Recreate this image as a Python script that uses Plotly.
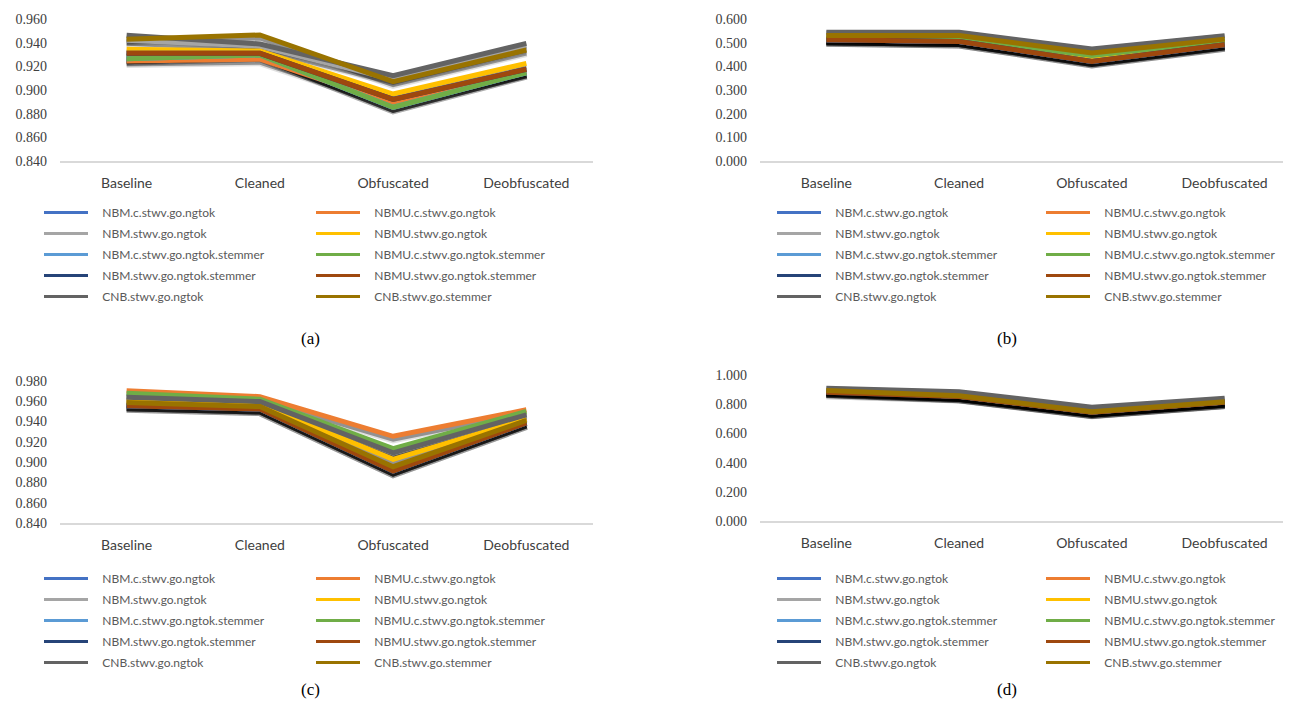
import plotly.graph_objects as go

# The page body has an 8px margin, so the figure is drawn 8px smaller and all
# pixel positions below are given in window coordinates, shifted by OFF.
OFF = 8
W, H = 1291 - OFF, 704 - OFF

categories = ["Baseline", "Cleaned", "Obfuscated", "Deobfuscated"]

series_names = [
    "NBM.c.stwv.go.ngtok", "NBMU.c.stwv.go.ngtok",
    "NBM.stwv.go.ngtok", "NBMU.stwv.go.ngtok",
    "NBM.c.stwv.go.ngtok.stemmer", "NBMU.c.stwv.go.ngtok.stemmer",
    "NBM.stwv.go.ngtok.stemmer", "NBMU.stwv.go.ngtok.stemmer",
    "CNB.stwv.go.ngtok", "CNB.stwv.go.stemmer",
]
series_colors = ["#4472C4", "#ED7D31", "#A5A5A5", "#FFC000", "#5B9BD5",
                 "#70AD47", "#264478", "#9E480E", "#636363", "#997300"]

# panel (a)
values_a = [
    [0.9265, 0.9296, 0.8854, 0.9146],
    [0.9245, 0.9260, 0.8887, 0.9150],
    [0.9420, 0.9370, 0.9090, 0.9365],
    [0.9344, 0.9330, 0.8966, 0.9225],
    [0.9265, 0.9296, 0.8854, 0.9146],
    [0.9265, 0.9296, 0.8854, 0.9146],
    [0.9310, 0.9310, 0.8921, 0.9175],
    [0.9310, 0.9310, 0.8921, 0.9175],
    [0.9462, 0.9389, 0.9120, 0.9394],
    [0.9428, 0.9465, 0.9070, 0.9338],
]
# panel (b)
values_b = [
    [0.512, 0.505, 0.421, 0.491],
    [0.512, 0.505, 0.424, 0.493],
    [0.540, 0.541, 0.470, 0.527],
    [0.517, 0.512, 0.435, 0.503],
    [0.512, 0.505, 0.421, 0.491],
    [0.519, 0.516, 0.446, 0.508],
    [0.512, 0.505, 0.421, 0.491],
    [0.512, 0.505, 0.421, 0.491],
    [0.544, 0.544, 0.473, 0.529],
    [0.530, 0.530, 0.456, 0.515],
]
# panel (c)
values_c = [
    [0.9555, 0.9523, 0.8912, 0.9386],
    [0.9705, 0.9646, 0.9255, 0.9516],
    [0.9635, 0.9595, 0.9090, 0.9465],
    [0.9600, 0.9570, 0.9027, 0.9425],
    [0.9555, 0.9523, 0.8912, 0.9386],
    [0.9680, 0.9620, 0.9134, 0.9500],
    [0.9555, 0.9523, 0.8912, 0.9386],
    [0.9555, 0.9523, 0.8912, 0.9386],
    [0.9640, 0.9597, 0.9092, 0.9467],
    [0.9588, 0.9548, 0.8955, 0.9411],
]
# panel (d)
values_d = [
    [0.890, 0.855, 0.747, 0.815],
    [0.890, 0.855, 0.747, 0.815],
    [0.905, 0.880, 0.772, 0.835],
    [0.890, 0.855, 0.747, 0.815],
    [0.890, 0.855, 0.747, 0.815],
    [0.890, 0.855, 0.747, 0.815],
    [0.882, 0.853, 0.745, 0.813],
    [0.882, 0.853, 0.745, 0.813],
    [0.909, 0.886, 0.779, 0.840],
    [0.893, 0.858, 0.749, 0.817],
]

panel_values = [values_a, values_b, values_c, values_d]
panel_ranges = [[0.84, 0.96], [0.0, 0.6], [0.84, 0.98], [0.0, 1.0]]
panel_dtick = [0.02, 0.1, 0.02, 0.2]
panel_captions = ["(a)", "(b)", "(c)", "(d)"]

# layout geometry in window pixels: (x0, x1, y_bottom, y_top)
panel_px = [
    (60, 593, 161, 19),
    (760, 1291, 161, 19),
    (60, 593, 523, 381),
    (760, 1291, 521, 375),
]
legend_px = [(39, 311, 198), (772, 1041, 198), (39, 311, 564), (772, 1041, 564)]
caption_px = [(310, 338), (1007, 338), (310, 689), (1007, 689)]
SHADOW_DY = 3


def fx(px):
    return (px - OFF) / W


def fy(py):
    return 1 - (py - OFF) / H


TXT = "#595959"
PAD = "\u00a0\u00a0\u00a0"
fig = go.Figure()

layout = dict(
    width=W, height=H, margin=dict(l=0, r=0, t=0, b=0, autoexpand=False),
    paper_bgcolor="white", plot_bgcolor="rgba(0,0,0,0)", showlegend=True,
)

annotations = []
for p in range(4):
    xs = "" if p == 0 else str(p + 1)      # shadow subplot axes
    ys_main = str(p + 5)                   # visible value axis
    x0, x1, yb, yt = panel_px[p]
    layout["xaxis" + xs] = dict(
        domain=[fx(x0), fx(x1)], anchor="y" + ys_main,
        range=[-0.5, 3.5],
        showline=True, linecolor="#D9D9D9", linewidth=2,
        showgrid=False, zeroline=False, ticks="",
        tickfont=dict(family="Lato", size=14, color="#404040"),
        ticklabelstandoff=8, fixedrange=True,
    )
    # shadow axis, shifted down by a few pixels
    layout["yaxis" + xs] = dict(
        domain=[fy(yb + SHADOW_DY), fy(yt + SHADOW_DY)], anchor="x" + xs,
        range=panel_ranges[p], visible=False, fixedrange=True,
    )
    layout["yaxis" + ys_main] = dict(
        domain=[fy(yb), fy(yt)], anchor="x" + xs,
        range=panel_ranges[p], dtick=panel_dtick[p], tick0=0,
        tickformat=".3f", showgrid=False, zeroline=False, showline=False,
        tickfont=dict(family="Liberation Serif", size=14, color="#404040"),
        ticklabelstandoff=12, fixedrange=True,
    )
    lx_left, lx_right, ly = legend_px[p]
    for c, lx in enumerate([lx_left, lx_right]):
        lid = "legend" + ("" if (p == 0 and c == 0) else str(p * 2 + c + 1))
        layout[lid] = dict(
            x=fx(lx), y=fy(ly), xanchor="left", yanchor="top",
            orientation="v", bgcolor="rgba(0,0,0,0)", borderwidth=0,
            font=dict(family="Lato", size=12, color=TXT),
            tracegroupgap=2, itemwidth=44,
        )
    # shadows
    for i, name in enumerate(series_names):
        for w, a in ((8, 0.12), (5, 0.35)):
            fig.add_trace(go.Scatter(
                x=categories, y=panel_values[p][i], mode="lines",
                line=dict(color=f"rgba(0,0,0,{a})", width=w),
                xaxis="x" + xs, yaxis="y" + xs, showlegend=False,
                hoverinfo="skip",
            ))
    # data lines
    for i, name in enumerate(series_names):
        fig.add_trace(go.Scatter(
            x=categories, y=panel_values[p][i], name=name, mode="lines",
            line=dict(color=series_colors[i], width=5),
            xaxis="x" + xs, yaxis="y" + ys_main, showlegend=False,
            legendgroup=f"p{p}s{i}", hoverinfo="name+y",
        ))
    # legend entries (thin swatches)
    for i, name in enumerate(series_names):
        col = i % 2
        lid = "legend" + ("" if (p == 0 and col == 0) else str(p * 2 + col + 1))
        fig.add_trace(go.Scatter(
            x=[categories[0]], y=[None], name=PAD + name, mode="lines",
            line=dict(color=series_colors[i], width=3),
            xaxis="x" + xs, yaxis="y" + ys_main, legend=lid,
            legendgroup=f"p{p}s{i}", showlegend=True, hoverinfo="skip",
        ))
    cx, cy = caption_px[p]
    annotations.append(dict(
        x=fx(cx), y=fy(cy), xref="paper", yref="paper", text=panel_captions[p],
        showarrow=False, font=dict(family="Liberation Serif", size=17, color="black"),
        xanchor="center", yanchor="middle",
    ))

layout["annotations"] = annotations
fig.update_layout(**layout)
fig.write_html("out.html")
